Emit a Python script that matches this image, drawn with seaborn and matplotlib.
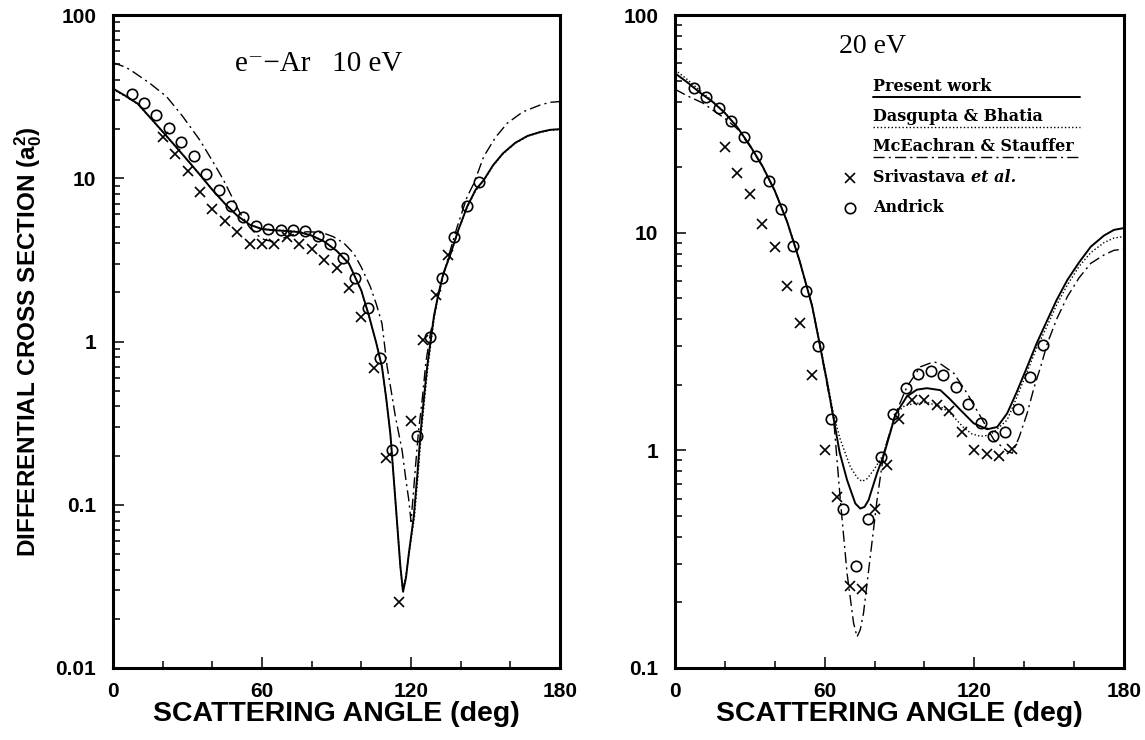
import matplotlib
matplotlib.use("Agg")
import matplotlib.pyplot as plt
import seaborn as sns
from matplotlib import font_manager as fm
from matplotlib.lines import Line2D
from matplotlib.ticker import FixedLocator, LogLocator, NullFormatter

# ---------------- data: 10 eV panel ----------------
ang10_present = [0, 5, 10, 15, 20, 25, 30, 35, 40, 45, 50, 55, 60, 65, 70, 75, 80, 85, 90, 95,
                 100, 103, 106, 108.3, 110, 111.7, 113.7, 115.7, 116.8, 118, 119.1, 121.1, 122.5,
                 123.8, 125, 126.5, 129.2, 131, 133, 136, 139, 142.6, 146, 149.3, 153, 157, 162,
                 167, 172, 176, 180]
dcs10_present = [35.4, 32, 28.6, 23.5, 19.3, 15.8, 12.9, 10.5, 8.5, 7.0, 5.9, 5.2, 4.88, 4.8, 4.75,
                 4.68, 4.45, 4.1, 3.6, 3.0, 2.05, 1.45, 0.98, 0.70, 0.45, 0.27, 0.107, 0.042, 0.0293,
                 0.036, 0.050, 0.0845, 0.15, 0.27, 0.42, 0.70, 1.42, 1.95, 2.6, 3.47, 4.8, 6.7, 8.5,
                 9.75, 12.0, 14.2, 16.5, 18.2, 19.2, 19.8, 20.0]
ang10_dasgupta = [0, 5, 10, 15, 20, 25, 30, 35, 40, 45, 50, 55, 60, 65, 70, 75, 80, 85, 90, 95,
                  100, 103, 106, 108.3, 110, 111.7, 113.7, 115.7, 116.6, 117.8, 119.2, 121.4, 122.8,
                  124.1, 125.3, 126.8, 129.4, 131, 133, 136, 139, 142.6, 146, 149.3, 153, 157, 162,
                  167, 172, 176, 180]
dcs10_dasgupta = [35.0, 31.8, 28.4, 23.4, 19.2, 15.8, 12.9, 10.5, 8.5, 7.0, 5.9, 5.2, 4.9, 4.82, 4.78,
                  4.7, 4.47, 4.1, 3.6, 3.0, 2.05, 1.45, 0.98, 0.70, 0.45, 0.27, 0.107, 0.042, 0.030,
                  0.036, 0.050, 0.0845, 0.15, 0.27, 0.42, 0.70, 1.42, 1.93, 2.58, 3.45, 4.75, 6.65,
                  8.4, 9.7, 11.9, 14.1, 16.4, 18.1, 19.1, 19.7, 19.9]
ang10_mceachran = [0, 5, 8, 15, 21.6, 28, 35, 40, 44.5, 51.2, 55, 58, 61, 64.6, 67, 70, 74, 78, 82,
                   85, 88.8, 93, 96.9, 100, 103.6, 106, 108.3, 110.4, 112, 113.7, 116.4, 118, 119.1,
                   120, 121, 121.8, 123, 124.5, 126, 127.8, 131, 134.5, 138.6, 142.6, 145.3, 149.3,
                   154, 158.7, 165, 172, 176, 180]
dcs10_mceachran = [51, 48, 45, 38, 31.6, 24, 17.1, 12.8, 9.75, 6.1, 5.0, 4.49, 4.2, 4.09, 4.2, 4.38,
                   4.6, 4.7, 4.68, 4.6, 4.38, 4.0, 3.47, 2.85, 2.17, 1.7, 1.29, 0.70, 0.5, 0.347,
                   0.216, 0.14, 0.107, 0.079, 0.12, 0.171, 0.28, 0.44, 0.75, 1.12, 1.9, 3.1, 5.05,
                   7.7, 9.3, 13.6, 17.8, 21.7, 25.5, 28.1, 29.2, 29.5]
ang10_srivastava = [20, 25, 30, 35, 40, 45, 50, 55, 60, 65, 70, 75, 80, 85, 90, 95, 100, 105, 110,
                    115, 120, 125, 130, 135]
dcs10_srivastava = [18.0, 14.1, 11.1, 8.2, 6.48, 5.47, 4.67, 3.94, 3.94, 3.94, 4.35, 3.94, 3.67, 3.16,
                    2.83, 2.14, 1.42, 0.69, 0.194, 0.0255, 0.326, 1.02, 1.93, 3.39]
ang10_andrick = [7.5, 12.5, 17.5, 22.5, 27.5, 32.5, 37.5, 42.5, 47.5, 52.5, 57.5, 62.5, 67.5, 72.5,
                 77.5, 82.5, 87.5, 92.5, 97.5, 102.5, 107.5, 112.5, 122.5, 127.5, 132.5, 137.5,
                 142.5, 147.5]
dcs10_andrick = [33, 28.8, 24.4, 20.4, 16.7, 13.6, 10.6, 8.47, 6.79, 5.76, 5.12, 4.89, 4.82, 4.82,
                 4.75, 4.45, 3.94, 3.26, 2.46, 1.60, 0.79, 0.216, 0.264, 1.07, 2.46, 4.38, 6.79, 9.5]

# ---------------- data: 20 eV panel ----------------
ang20_present = [0, 5, 10, 15, 20, 25, 30, 35, 40, 45, 50, 55, 58.2, 61, 63.6, 66, 69, 72.3, 74.3,
                 76, 77.6, 81, 83.7, 88.4, 93, 97, 101, 106.4, 110, 114.5, 119.8, 125.2, 129.2,
                 133.2, 137, 141.2, 145, 149.3, 153, 157.3, 162, 166.7, 172, 176, 180]
dcs20_present = [54, 49, 44, 40, 35.5, 30.5, 25.2, 20.3, 15.6, 11.2, 7.4, 4.6, 3.0, 2.05, 1.4, 0.98,
                 0.73, 0.57, 0.54, 0.55, 0.59, 0.785, 0.95, 1.46, 1.77, 1.9, 1.93, 1.89, 1.73, 1.53,
                 1.33, 1.25, 1.28, 1.48, 1.85, 2.42, 3.1, 3.97, 4.9, 6.06, 7.3, 8.62, 9.7, 10.3, 10.5]
ang20_dasgupta = [0, 5, 10, 15, 20, 25, 30, 35, 40, 45, 50, 55, 58.2, 61, 63.6, 66.3, 70.3, 73, 75,
                  77, 79.6, 83.4, 88.4, 92, 95.7, 101, 106.4, 110.4, 115.8, 119, 122.5, 125, 127.8,
                  133.2, 137, 141.2, 145, 149.3, 153, 157.3, 162, 166.7, 172, 176, 180]
dcs20_dasgupta = [56, 50.5, 45, 40.3, 35.6, 30.5, 25.2, 20.3, 15.6, 11.2, 7.4, 4.6, 3.05, 2.1, 1.45,
                  1.12, 0.84, 0.75, 0.72, 0.74, 0.81, 0.95, 1.47, 1.6, 1.64, 1.66, 1.59, 1.48, 1.27,
                  1.19, 1.16, 1.17, 1.21, 1.38, 1.75, 2.3, 2.95, 3.75, 4.65, 5.75, 7.0, 8.1, 9.0, 9.45,
                  9.6]
ang20_mceachran = [0, 5, 11.4, 16, 20, 25, 30, 35, 40, 45, 50, 55, 58.2, 61, 63.6, 66.3, 69, 71.6,
                   73, 74.3, 75.6, 78.3, 81, 83.7, 88.4, 93, 98.4, 103.7, 106.4, 111.8, 117.1, 122.5,
                   127.8, 133.2, 135.2, 138, 141.2, 144, 146.6, 149.3, 153, 157.3, 162, 166.7, 172,
                   176, 180]
dcs20_mceachran = [45.6, 42.5, 39.3, 36, 33.5, 30, 25, 20.2, 15.6, 11.2, 7.4, 4.6, 3.0, 2.0, 1.4,
                   0.59, 0.272, 0.161, 0.139, 0.15, 0.179, 0.325, 0.59, 0.97, 1.47, 1.96, 2.42, 2.55,
                   2.5, 2.26, 1.83, 1.43, 1.12, 0.99, 0.97, 1.15, 1.48, 1.95, 2.42, 3.1, 4.0, 5.08,
                   6.2, 7.23, 7.9, 8.3, 8.4]
ang20_srivastava = [20, 25, 30, 35, 40, 45, 50, 55, 60, 65, 70, 75, 80, 85, 90, 95, 100, 105, 110,
                    115, 120, 125, 130, 135]
dcs20_srivastava = [24.8, 18.9, 15.1, 11.0, 8.57, 5.71, 3.85, 2.22, 1.0, 0.608, 0.238, 0.230, 0.538,
                    0.857, 1.40, 1.70, 1.70, 1.62, 1.51, 1.21, 1.0, 0.96, 0.94, 1.01]
ang20_andrick = [7.5, 12.5, 17.5, 22.5, 27.5, 32.5, 37.5, 42.5, 47.5, 52.5, 57.5, 62.5, 67.5, 72.5,
                 77.5, 82.5, 87.5, 92.5, 97.5, 102.5, 107.5, 112.5, 117.5, 122.5, 127.5, 132.5,
                 137.5, 142.5, 147.5]
dcs20_andrick = [46, 41.9, 37.5, 32.6, 27.6, 22.5, 17.3, 12.8, 8.69, 5.41, 3.02, 1.40, 0.538, 0.294,
                 0.484, 0.935, 1.47, 1.93, 2.24, 2.32, 2.22, 1.96, 1.63, 1.33, 1.16, 1.22, 1.55, 2.18,
                 3.05]

x_major = [0, 60, 120, 180]
x_minor = [20, 40, 80, 100, 140, 160]
y_major_10 = [0.01, 0.1, 1, 10, 100]
y_labels_10 = ["0.01", "0.1", "1", "10", "100"]
y_major_20 = [0.1, 1, 10, 100]
y_labels_20 = ["0.1", "1", "10", "100"]

legend_labels = ["Present work", "Dasgupta & Bhatia", "McEachran & Stauffer", "Srivastava ", "Andrick"]

# ---------------- style ----------------
sns.set_style("ticks")


def has_font(name):
    try:
        fm.findfont(name, fallback_to_default=False)
        return True
    except Exception:
        return False


SANS = "Liberation Sans Narrow" if has_font("Liberation Sans Narrow") else "Liberation Sans"
plt.rcParams["font.family"] = [SANS, "DejaVu Sans"]
plt.rcParams["mathtext.fontset"] = "custom"
plt.rcParams["mathtext.rm"] = f"{SANS}:bold"
plt.rcParams["mathtext.it"] = f"{SANS}:bold"
plt.rcParams["mathtext.bf"] = f"{SANS}:bold"
plt.rcParams["axes.linewidth"] = 2.2
for key in ["text.color", "axes.labelcolor", "xtick.color", "ytick.color", "axes.edgecolor"]:
    plt.rcParams[key] = "black"

fig = plt.figure(figsize=(11.45, 7.4), dpi=100)
ax1 = fig.add_axes([0.0987, 0.0973, 0.3904, 0.8824])
ax2 = fig.add_axes([0.5895, 0.0973, 0.3921, 0.8824])

solid = dict(linewidth=1.4, linestyle="-")
dotted = dict(linewidth=1.0, linestyle=(0, (1, 1.6)))
dashdot = dict(linewidth=1.0, linestyle=(0, (8, 3, 1.5, 3)))
cross = dict(marker="x", linestyle="", markersize=6.5, markeredgewidth=1.2, markeredgecolor="k")
circ = dict(marker="o", linestyle="", markersize=7.5, markeredgewidth=1.2,
            markerfacecolor="none", markeredgecolor="k")


def draw(ax, x, y, kw):
    sns.lineplot(x=x, y=y, ax=ax, color="k", estimator=None, sort=False, **kw)


draw(ax1, ang10_dasgupta, dcs10_dasgupta, dotted)
draw(ax1, ang10_mceachran, dcs10_mceachran, dashdot)
draw(ax1, ang10_present, dcs10_present, solid)
draw(ax1, ang10_srivastava, dcs10_srivastava, cross)
draw(ax1, ang10_andrick, dcs10_andrick, circ)

draw(ax2, ang20_dasgupta, dcs20_dasgupta, dotted)
draw(ax2, ang20_mceachran, dcs20_mceachran, dashdot)
draw(ax2, ang20_present, dcs20_present, solid)
draw(ax2, ang20_srivastava, dcs20_srivastava, cross)
draw(ax2, ang20_andrick, dcs20_andrick, circ)

tick_font = dict(fontsize=15, fontweight="bold", family=[SANS, "DejaVu Sans"], color="black")
label_font = dict(fontsize=20.5, fontweight="bold", family=[SANS, "DejaVu Sans"], color="black")

for ax, ymaj, ylab, ylim in [(ax1, y_major_10, y_labels_10, (0.01, 100)),
                             (ax2, y_major_20, y_labels_20, (0.1, 100))]:
    ax.set_yscale("log")
    ax.set_xlim(0, 180)
    ax.set_ylim(*ylim)
    ax.set_xticks(x_major)
    ax.set_xticklabels([str(v) for v in x_major], **tick_font)
    ax.xaxis.set_minor_locator(FixedLocator(x_minor))
    ax.set_yticks(ymaj)
    ax.set_yticklabels(ylab, **tick_font)
    ax.yaxis.set_minor_locator(LogLocator(base=10, subs=range(2, 10)))
    ax.yaxis.set_minor_formatter(NullFormatter())
    ax.tick_params(which="both", direction="in", top=False, right=False, width=1.1, colors="k")
    ax.tick_params(which="major", length=8)
    ax.tick_params(which="minor", length=5)
    ax.tick_params(axis="y", which="major", pad=12)
    ax.tick_params(axis="x", which="major", pad=10)
    for s in ax.spines.values():
        s.set_visible(True)
        s.set_linewidth(2.2)
        s.set_color("k")
    ax.set_xlabel("SCATTERING ANGLE (deg)", **label_font)
    ax.xaxis.set_label_coords(0.5, -0.05)
    ax.xaxis.label.set_verticalalignment("top")
    ax.set_ylabel("")

ax1.set_ylabel(r"DIFFERENTIAL CROSS SECTION (a$_{0}^{2}$)", fontsize=17.5, fontweight="bold",
               family=[SANS, "DejaVu Sans"], color="black")
ax1.yaxis.set_label_coords(-0.155, 0.5)

serif = ["Liberation Serif", "DejaVu Serif"]
ax1.text(0.46, 0.925, "e\u207b\u2212Ar   10 eV", transform=ax1.transAxes, ha="center", va="center",
         fontsize=21, family=serif, color="black")
ax2.text(0.44, 0.952, "20 eV", transform=ax2.transAxes, ha="center", va="center",
         fontsize=20, family=serif, color="black")

# legend (manual, underline style)
leg_font = dict(fontsize=11.5, fontweight="bold", family=["DejaVu Serif"], color="black")
tx = 0.441
line_end = 0.902
rows = [0.891, 0.845, 0.799]
styles = [solid, dotted, dashdot]
for lab, yy, st in zip(legend_labels[:3], rows, styles):
    ax2.text(tx, yy, lab, transform=ax2.transAxes, ha="left", va="center", **leg_font)
    ax2.add_line(Line2D([tx, line_end], [yy - 0.016, yy - 0.016], transform=ax2.transAxes,
                        color="k", **st))
ax2.add_line(Line2D([0.39], [0.751], transform=ax2.transAxes, color="k", **cross))
ax2.add_line(Line2D([0.39], [0.705], transform=ax2.transAxes, color="k", **circ))
t_sri = ax2.text(tx, 0.751, legend_labels[3], transform=ax2.transAxes, ha="left", va="center",
                 **leg_font)
fig.canvas.draw()
bb = t_sri.get_window_extent().transformed(ax2.transAxes.inverted())
ax2.text(bb.x1, 0.751, "et al.", transform=ax2.transAxes, ha="left", va="center", fontsize=11.5,
         fontweight="bold", fontstyle="italic", family=["DejaVu Serif"], color="black")
ax2.text(tx, 0.705, legend_labels[4], transform=ax2.transAxes, ha="left", va="center", **leg_font)

fig.savefig("out.png", dpi=100, facecolor="white")
